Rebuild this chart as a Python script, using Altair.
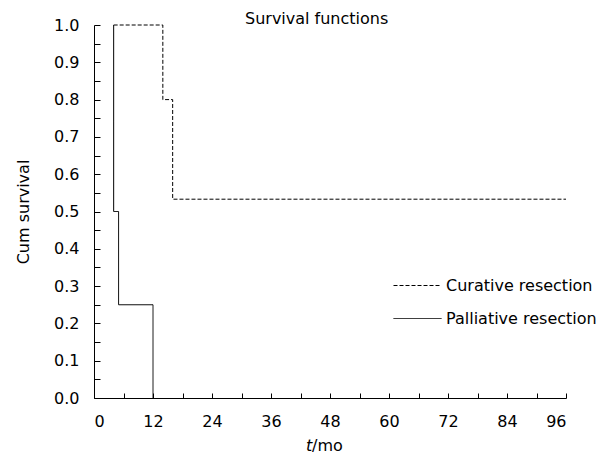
import altair as alt
import pandas as pd

FONT = "DejaVu Sans"
FS = 16

# Curative resection (dashed)
cur_t = [4, 14, 14, 16, 16, 96]
cur_s = [1.0, 1.0, 0.8, 0.8, 0.533, 0.533]
# Palliative resection (solid)
pal_t = [4, 4, 5, 5, 12, 12]
pal_s = [1.0, 0.5, 0.5, 0.25, 0.25, 0.0]

groups = ["Curative resection", "Palliative resection"]

rows = []
for i, (t, s) in enumerate(zip(cur_t, cur_s)):
    rows.append({"t": t, "s": s, "g": groups[0], "o": i})
for i, (t, s) in enumerate(zip(pal_t, pal_s)):
    rows.append({"t": t, "s": s, "g": groups[1], "o": i})
df = pd.DataFrame(rows)

x_major = list(range(0, 97, 12))
x_minor = list(range(0, 97, 6))
y_major = [round(i * 0.1, 1) for i in range(11)]
y_minor = [round(i * 0.05, 2) for i in range(21)]

W, H = 472, 373
xs = alt.Scale(domain=[0, 96], nice=False, zero=False)
ys = alt.Scale(domain=[0, 1], nice=False)

lines = alt.Chart(df).mark_line(color="black", strokeWidth=1).encode(
    x=alt.X("t:Q", scale=xs, axis=alt.Axis(orient="bottom", values=x_major, ticks=False, tickSize=0,
                                            labelPadding=15, labelFontSize=FS, labelFont=FONT,
                                            labelColor="black", domainColor="black", grid=False, title=None)),
    y=alt.Y("s:Q", scale=ys, axis=alt.Axis(orient="left", values=y_major, format=".1f", ticks=False, tickSize=0,
                                            labelPadding=15, labelFontSize=FS, labelFont=FONT,
                                            labelColor="black", domainColor="black", grid=False,
                                            title="Cum survival", titleFont=FONT, titleFontSize=FS,
                                            titleFontWeight="normal", titleColor="black", titlePadding=22)),
    strokeDash=alt.StrokeDash("g:N", scale=alt.Scale(domain=groups, range=[[4, 2], [1, 0]]),
                              legend=alt.Legend(orient="none", legendX=299, legendY=236, title=None,
                                                symbolType="stroke", symbolSize=2304, symbolStrokeWidth=1,
                                                symbolStrokeColor="black", labelFont=FONT, labelFontSize=FS,
                                                labelColor="black", labelOffset=4, rowPadding=-6, padding=0,
                                                labelLimit=300)),
    order="o:Q",
)

ticks = alt.Chart(df).mark_point(opacity=0).encode(
    x=alt.X("t:Q", scale=xs, axis=alt.Axis(orient="top", offset=-H, values=x_minor, labels=False, domain=False,
                                            tickSize=5, tickColor="black", grid=False, title=None)),
    y=alt.Y("s:Q", scale=ys, axis=alt.Axis(orient="right", offset=-W, values=y_minor, labels=False, domain=False,
                                            tickSize=6, tickColor="black", grid=False, title=None)),
)

one = pd.DataFrame({"a": [0]})
title_txt = alt.Chart(one).mark_text(text="Survival functions", font=FONT, fontSize=FS, align="left",
                                     baseline="alphabetic", color="black").encode(x=alt.value(151), y=alt.value(-1))
t_it = alt.Chart(one).mark_text(text="t", font=FONT, fontSize=FS, fontStyle="italic", align="left",
                               baseline="alphabetic", color="black").encode(x=alt.value(212), y=alt.value(426))
t_mo = alt.Chart(one).mark_text(text="/mo", font=FONT, fontSize=FS, align="left",
                               baseline="alphabetic", color="black").encode(x=alt.value(218), y=alt.value(426))

chart = alt.layer(lines, ticks, title_txt, t_it, t_mo).resolve_axis(x="independent", y="independent").properties(
    width=W, height=H,
    autosize=alt.AutoSizeParams(type="none"),
    padding={"left": 86, "top": 17, "right": 32, "bottom": 56},
).configure_view(strokeWidth=0)

chart.save("out.html", embed_options={"renderer": "svg", "actions": False})
